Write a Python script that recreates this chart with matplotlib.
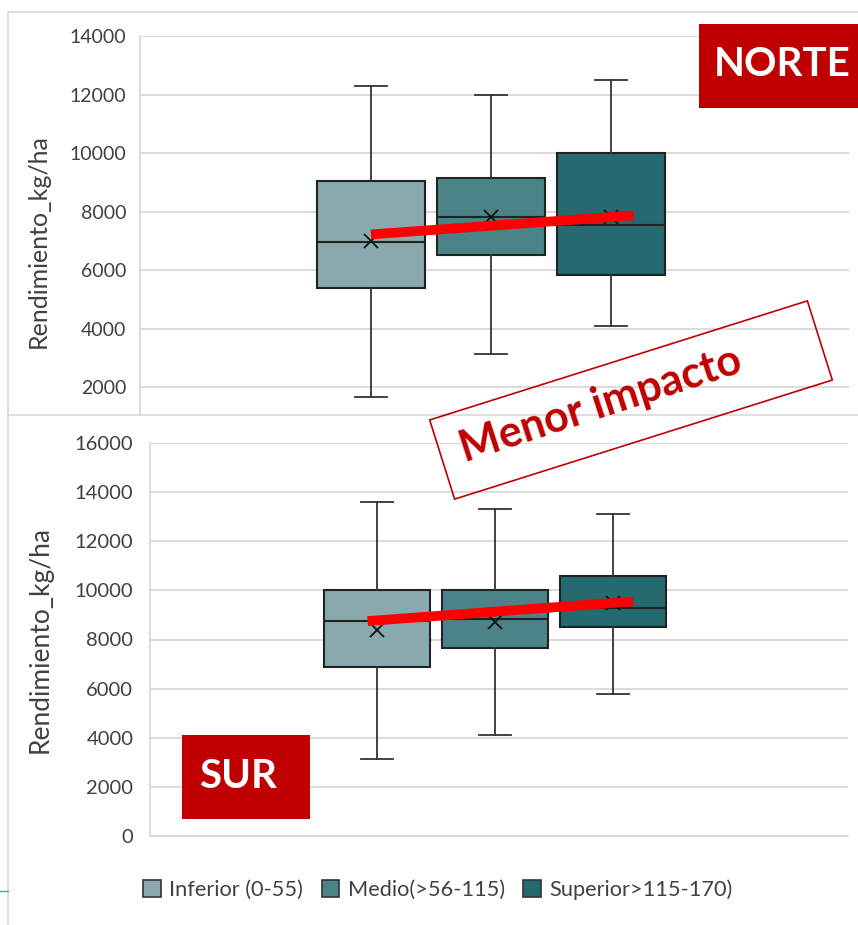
import matplotlib
matplotlib.use("Agg")
import matplotlib.pyplot as plt
from matplotlib.patches import Patch, Rectangle
from matplotlib.lines import Line2D

plt.rcParams['font.family'] = ['Lato', 'DejaVu Sans']

# ---------------------------------------------------------------------------
# data (kg/ha)
# ---------------------------------------------------------------------------
groups = ["Inferior (0-55)", "Medio(>56-115)", "Superior>115-170)"]
colors = ["#88AAAE", "#4A8489", "#246A70"]
positions = [1, 2, 3]

norte_whislo = [1650, 3150, 4100]
norte_q1 = [5400, 6520, 5850]
norte_med = [6950, 7800, 7550]
norte_mean = [7000, 7800, 7800]
norte_q3 = [9050, 9150, 10000]
norte_whishi = [12300, 12000, 12500]

sur_whislo = [3150, 4100, 5800]
sur_q1 = [6880, 7650, 8500]
sur_med = [8750, 8850, 9300]
sur_mean = [8400, 8700, 9500]
sur_q3 = [10000, 10020, 10600]
sur_whishi = [13600, 13300, 13100]

# red trend lines drawn on each panel
norte_trend_x = [1.0, 3.19]
norte_trend_y = [7220, 7870]
sur_trend_x = [0.92, 3.17]
sur_trend_y = [8750, 9550]

norte_ticks = list(range(2000, 14001, 2000))
sur_ticks = list(range(0, 16001, 2000))

W, H = 858, 925
GRID = "#D9D9D9"
TXT = "#404040"
DARK_RED = "#C00000"


def fx(x):
    return x / W


def fy(y):
    return 1 - y / H


def make_stats(lo, q1, med, mean, q3, hi):
    return [dict(whislo=a, q1=b, med=c, mean=d, q3=e, whishi=f)
            for a, b, c, d, e, f in zip(lo, q1, med, mean, q3, hi)]


def draw_boxes(ax, stats):
    bp = ax.bxp(stats, positions=positions, widths=0.9, capwidths=0.27,
                patch_artist=True, showmeans=True, showfliers=False,
                boxprops=dict(edgecolor="#222222", linewidth=1.5),
                medianprops=dict(color="#222222", linewidth=1.5),
                whiskerprops=dict(color="#333333", linewidth=1.3),
                capprops=dict(color="#333333", linewidth=1.3),
                meanprops=dict(marker="x", markeredgecolor="#111111",
                               markersize=10, markeredgewidth=1.3))
    for patch, c in zip(bp["boxes"], colors):
        patch.set_facecolor(c)


def style_axis(ax, ticks, pad):
    ax.set_yticks(ticks)
    ax.set_xticks([])
    ax.yaxis.grid(True, color=GRID, linewidth=1.3)
    ax.set_axisbelow(True)
    for s in ["top", "right", "bottom"]:
        ax.spines[s].set_visible(False)
    ax.spines["left"].set_color(GRID)
    ax.spines["left"].set_linewidth(1.3)
    ax.tick_params(axis="y", length=0, pad=pad, labelcolor=TXT)


fig = plt.figure(figsize=(W / 100, H / 100), dpi=100)

# chart frames
for (x0, y0, x1, y1) in [(8, 12, 858, 12), (8, 12, 8, 925), (8, 415, 858, 415)]:
    fig.add_artist(Line2D([fx(x0), fx(x1)], [fy(y0), fy(y1)],
                          color=GRID, linewidth=1.2))
fig.add_artist(Line2D([fx(0), fx(8)], [fy(891), fy(891)], color="#3CB39A", linewidth=1))

# --- NORTE ---
ax1 = fig.add_axes([fx(140), fy(415), (849 - 140) / W, (415 - 36) / H])
draw_boxes(ax1, make_stats(norte_whislo, norte_q1, norte_med, norte_mean,
                           norte_q3, norte_whishi))
ax1.plot(norte_trend_x, norte_trend_y, color="#FF0000", linewidth=7,
         solid_capstyle="butt", zorder=6)
ax1.set_xlim(-0.925, 4.983)
ax1.set_ylim(1050, 14000)
style_axis(ax1, norte_ticks, 10)
for lab in ax1.get_yticklabels():
    lab.set_fontsize(14)
ax1.set_ylabel("Rendimiento_kg/ha", fontsize=18, color=TXT, va="center")
ax1.yaxis.set_label_coords(-0.144, 0.459)

# --- SUR ---
ax2 = fig.add_axes([fx(150), fy(836), (848 - 150) / W, (836 - 443) / H])
draw_boxes(ax2, make_stats(sur_whislo, sur_q1, sur_med, sur_mean,
                           sur_q3, sur_whishi))
ax2.plot(sur_trend_x, sur_trend_y, color="#FF0000", linewidth=7,
         solid_capstyle="butt", zorder=6)
ax2.set_xlim(-0.924, 4.99)
ax2.set_ylim(0, 16000)
style_axis(ax2, sur_ticks, 12)
ax2.spines["bottom"].set_visible(True)
ax2.spines["bottom"].set_color(GRID)
for lab in ax2.get_yticklabels():
    lab.set_fontsize(14.5)
ax2.set_ylabel("Rendimiento_kg/ha", fontsize=19, color=TXT, va="center")
ax2.yaxis.set_label_coords(-0.1576, 0.501)

# --- region tags ---
fig.add_artist(Rectangle((fx(699), fy(108)), (858 - 699) / W, (108 - 24) / H,
                         transform=fig.transFigure, facecolor=DARK_RED,
                         edgecolor="none", zorder=10))
fig.text(fx(782), fy(76), "NORTE", color="white", fontsize=29,
         fontweight="bold", ha="center", va="baseline", zorder=11)

fig.add_artist(Rectangle((fx(182), fy(819)), (310 - 182) / W, (819 - 735) / H,
                         transform=fig.transFigure, facecolor=DARK_RED,
                         edgecolor="none", zorder=10))
fig.text(fx(199), fy(788), "SUR", color="white", fontsize=29,
         fontweight="bold", ha="left", va="baseline", zorder=11)

# --- "Menor impacto" stamp ---
cx, cy, bw, bh = 631 / 100, (H - 400) / 100, 396 / 100, 83 / 100
fig.add_artist(Rectangle((cx - bw / 2, cy - bh / 2), bw, bh, angle=17.5,
                         rotation_point="center", transform=fig.dpi_scale_trans,
                         fill=False, edgecolor=DARK_RED, linewidth=1.2, zorder=10))
fig.text(fx(601), fy(405), "Menor impacto", color=DARK_RED, fontsize=31,
         fontweight="bold", rotation=18, rotation_mode="anchor",
         ha="center", va="center", zorder=11)

# --- legend ---
handles = [Patch(facecolor=c, edgecolor="#333333", linewidth=1.2) for c in colors]
leg = fig.legend(handles, groups, loc="center", bbox_to_anchor=(fx(438), fy(890)),
                 ncol=3, frameon=False, fontsize=15.7, handlelength=0.8,
                 handleheight=0.8, handletextpad=0.4, columnspacing=0.85)
for t in leg.get_texts():
    t.set_color(TXT)

fig.savefig("out.png", dpi=100)
